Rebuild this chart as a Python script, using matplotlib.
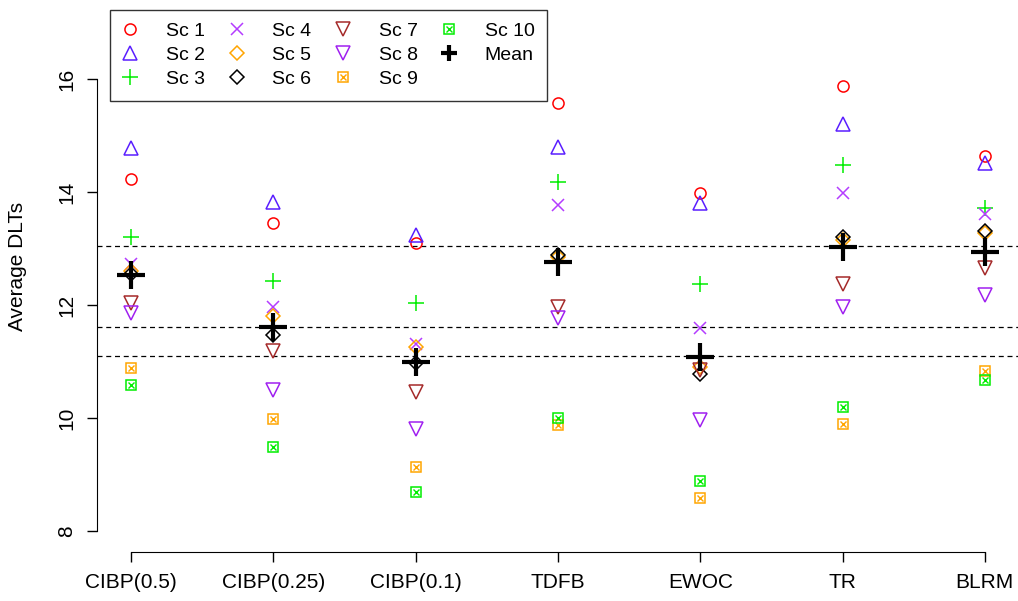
import matplotlib.pyplot as plt
from matplotlib.lines import Line2D
from matplotlib.legend_handler import HandlerTuple

plt.rcParams["font.family"] = ["Liberation Sans", "DejaVu Sans"]

# Designs on the x axis
designs = ["CIBP(0.5)", "CIBP(0.25)", "CIBP(0.1)", "TDFB", "EWOC", "TR", "BLRM"]

# Average DLTs per scenario, one value per design
sc1 = [14.23, 13.45, 13.10, 15.58, 13.99, 15.88, 14.64]
sc2 = [14.78, 13.83, 13.24, 14.80, 13.81, 15.20, 14.51]
sc3 = [13.20, 12.43, 12.03, 14.18, 12.38, 14.48, 13.71]
sc4 = [12.72, 11.97, 11.32, 13.77, 11.59, 13.98, 13.61]
sc5 = [12.60, 11.80, 11.26, 12.85, 10.90, 13.15, 13.28]
sc6 = [12.55, 11.47, 10.97, 12.88, 10.78, 13.21, 13.32]
sc7 = [12.03, 11.19, 10.47, 11.97, 10.85, 12.38, 12.65]
sc8 = [11.86, 10.50, 9.80, 11.78, 9.96, 11.96, 12.18]
sc9 = [10.88, 9.98, 9.14, 9.88, 8.58, 9.90, 10.84]
sc10 = [10.58, 9.48, 8.70, 10.01, 8.88, 10.19, 10.67]
means = [12.53, 11.62, 11.00, 12.77, 11.08, 13.03, 12.94]

# Horizontal reference lines
ref_lines = [13.04, 11.62, 11.10]

scenarios = [sc1, sc2, sc3, sc4, sc5, sc6, sc7, sc8, sc9, sc10]
labels = ["Sc %d" % (i + 1) for i in range(10)]
colors = ["#ff0000", "#5a1eff", "#00ee00", "#b43cff", "#ffa500",
          "#000000", "#a52a2a", "#a020f0", "#ffa500", "#00ee00"]
markers = ["o", "^", "+", "x", "D", "D", "v", "v", "boxx", "boxx"]
sizes = [8, 10, 12, 9, 7.5, 7.5, 10, 10, 7, 7]

fig = plt.figure(figsize=(10.18, 6.01), dpi=100)
ax = fig.add_axes([97 / 1018, 49 / 601, 922 / 1018, 552 / 601])

x = list(range(1, len(designs) + 1))

for yv in ref_lines:
    ax.axhline(yv, color="black", lw=0.9, ls=(0, (4, 3)), zorder=1)

handles = []
for vals, lab, c, m, s in zip(scenarios, labels, colors, markers, sizes):
    if m == "boxx":
        # square with a cross inside (R pch 7)
        ax.plot(x, vals, ls="none", marker="s", ms=s, mfc="none", mec=c, mew=1.1, zorder=3)
        ax.plot(x, vals, ls="none", marker="x", ms=s * 0.7, mec=c, mew=1.0, zorder=3)
        h = (Line2D([], [], ls="none", marker="s", ms=s, mfc="none", mec=c, mew=1.1),
             Line2D([], [], ls="none", marker="x", ms=s * 0.7, mec=c, mew=1.0))
    else:
        ax.plot(x, vals, ls="none", marker=m, ms=s, mfc="none", mec=c, mew=1.1, zorder=3)
        h = Line2D([], [], ls="none", marker=m, ms=s, mfc="none", mec=c, mew=1.1)
    handles.append(h)

ax.plot(x, means, ls="none", marker="+", ms=20, mec="black", mew=3, zorder=4)
handles.append(Line2D([], [], ls="none", marker="+", ms=11, mec="black", mew=3))
labels.append("Mean")

ax.set_xlim(0.76, 7.24)
ax.set_ylim(7.63, 17.4)
ax.set_xticks(x)
ax.set_xticklabels(designs, fontsize=15)
ax.set_yticks([8, 10, 12, 14, 16])
ax.set_yticklabels(["8", "10", "12", "14", "16"], fontsize=15, rotation=90, va="center")
ax.tick_params(axis="both", direction="out", length=7, width=1, colors="black")
ax.tick_params(axis="x", pad=8)
ax.tick_params(axis="y", pad=8)

for sp in ["top", "right"]:
    ax.spines[sp].set_visible(False)
ax.spines["left"].set_bounds(8, 16)
ax.spines["bottom"].set_bounds(1, 7)

fig.text(18 / 1018, 1 - 266 / 601, "Average DLTs", rotation=90,
         ha="center", va="center", fontsize=15)

leg = ax.legend(handles, labels, ncol=4, loc="upper left",
                bbox_to_anchor=(110 / 1018, 1 - 10 / 601), bbox_transform=fig.transFigure,
                fontsize=14, frameon=True, fancybox=False, edgecolor="black",
                handlelength=0.8, handletextpad=1.45, columnspacing=1.2,
                labelspacing=0.32, borderpad=0.65, borderaxespad=0,
                handler_map={tuple: HandlerTuple(ndivide=1)})
leg.get_frame().set_linewidth(1.0)

fig.savefig("out.png", dpi=100)
